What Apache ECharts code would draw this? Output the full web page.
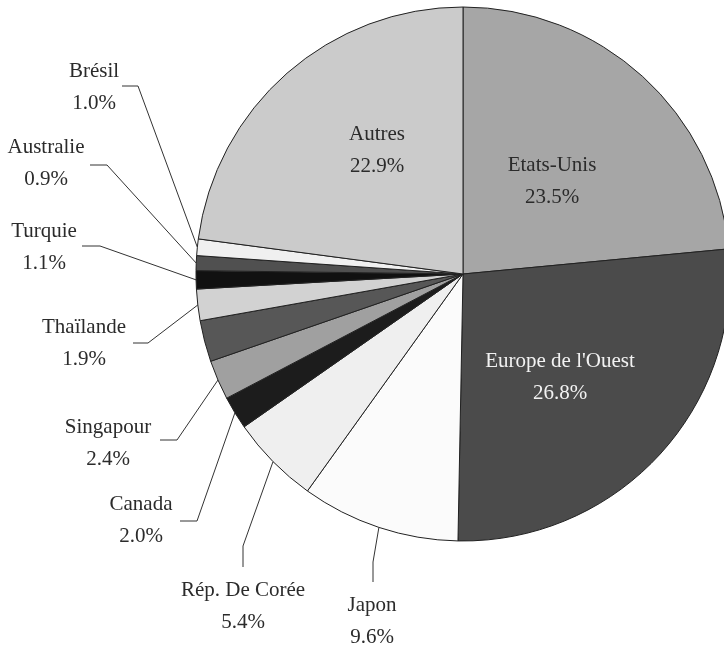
<!DOCTYPE html>
<html>
<head>
<meta charset="utf-8">
<script src="https://cdn.jsdelivr.net/npm/echarts@6/dist/echarts.min.js"></script>
<style>
html,body{margin:0;padding:0;background:#fff;}
#chart{width:724px;height:647px;}
</style>
</head>
<body>
<div id="chart"></div>
<script>
// Data
const names = ['Etats-Unis', "Europe de l'Ouest", 'Japon', 'Rép. De Corée', 'Canada', 'Singapour', '', 'Thaïlande', 'Turquie', 'Australie', 'Brésil', 'Autres'];
const values = [23.5, 26.8, 9.6, 5.4, 2.0, 2.4, 2.5, 1.9, 1.1, 0.9, 1.0, 22.9];

// Styles (not data)
const colors = ['#a6a6a6', '#4b4b4b', '#fbfbfb', '#efefef', '#1c1c1c', '#a0a0a0', '#575757', '#d2d2d2', '#111111', '#505050', '#f0f0f0', '#cbcbcb'];
const insideLabel = [true, true, false, false, false, false, false, false, false, false, false, true];
const showLabel = [true, true, true, true, true, true, false, true, true, true, true, true];
// Label layout: label centre and leader line [elbow, end]
const labelPos = [
  [552, 181], [560, 377], [372, 621], [243, 606], [141, 520], [108, 443],
  null, [84, 343], [44, 247], [46, 163], [94, 87], [377, 150]
];
const leader = [
  null, null, [[373, 562], [373, 582]], [[243, 546], [243, 567]], [[197, 521], [180, 521]],
  [[177, 440], [160, 440]], null, [[148, 343], [133, 343]], [[100, 246], [82, 246]],
  [[107, 165], [90, 165]], [[138, 86], [122, 86]], null
];

const chart = echarts.init(document.getElementById('chart'), null, {renderer: 'canvas'});
const data = names.map((n, i) => ({
  name: n,
  value: values[i],
  itemStyle: {color: colors[i]},
  label: {
    show: showLabel[i],
    color: i === 1 ? '#f2f2f2' : '#2b2b2b'
  },
  labelLine: {show: showLabel[i] && !insideLabel[i]}
}));

chart.setOption({
  animation: false,
  backgroundColor: '#ffffff',
  series: [{
    type: 'pie',
    center: [463, 274],
    radius: 267,
    startAngle: 90,
    clockwise: true,
    avoidLabelOverlap: false,
    data: data,
    itemStyle: {borderColor: '#222', borderWidth: 1},
    label: {
      position: 'outside',
      fontFamily: 'Liberation Serif',
      fontSize: 21,
      lineHeight: 32,
      align: 'center',
      formatter: p => p.name + '\n' + p.value.toFixed(1) + '%'
    },
    labelLine: {show: true, length: 20, length2: 20, lineStyle: {color: '#333', width: 1}},
    labelLayout: function (params) {
      const i = params.dataIndex;
      const pos = labelPos[i];
      if (!pos) return {};
      const res = {x: pos[0], y: pos[1], align: 'center', verticalAlign: 'middle'};
      if (leader[i] && params.labelLinePoints) {
        const p0 = params.labelLinePoints[0];
        res.labelLinePoints = [p0, leader[i][0], leader[i][1]];
      }
      return res;
    }
  }]
});
</script>
</body>
</html>
